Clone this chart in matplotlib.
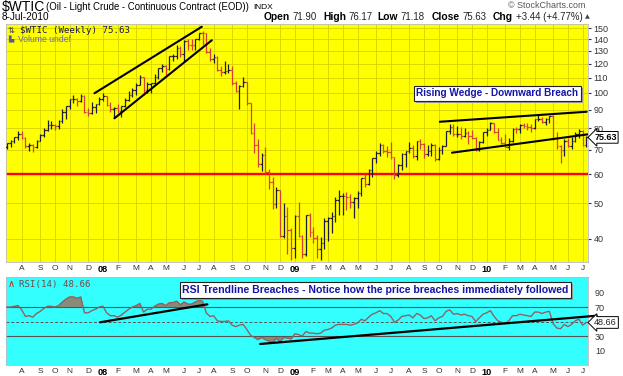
import matplotlib
matplotlib.use('Agg')
import matplotlib.pyplot as plt
import numpy as np
import pandas as pd
from matplotlib.transforms import IdentityTransform
from matplotlib.patches import Rectangle
from matplotlib.ticker import NullLocator, FixedLocator

# ---------------- data (weekly, $WTIC) ----------------
first_week = '2007-07-06'

opens = [
    71.0, 72.8, 73.9, 75.6, 77.0, 75.5, 71.5, 71.9, 71.1, 74.0,
    76.7, 79.1, 81.6, 81.7, 81.2, 83.7, 88.6, 91.9, 95.9, 96.3,
    95.1, 98.2, 88.7, 88.3, 91.3, 93.3, 96.0, 97.9, 92.7, 90.6,
    90.7, 89.0, 91.8, 95.5, 98.8, 101.8, 105.2, 110.2, 101.8, 105.6,
    106.2, 110.1, 116.7, 118.5, 116.3, 126.0, 126.3, 132.2, 127.4, 138.5,
    134.9, 134.6, 140.2, 145.3, 145.1, 128.9, 123.3, 125.1, 115.2, 113.8,
    114.6, 115.5, 106.2, 101.2, 104.6, 106.9, 93.9, 77.7, 71.9, 64.2,
    67.8, 61.0, 57.0, 49.9, 54.4, 40.8, 46.3, 42.4, 37.7, 46.3,
    40.8, 36.5, 46.5, 41.7, 40.2, 37.5, 38.9, 44.8, 45.5, 46.3,
    51.1, 52.4, 52.5, 52.2, 50.3, 51.6, 53.2, 58.6, 56.3, 61.7,
    66.3, 68.4, 72.0, 69.6, 69.2, 66.7, 59.9, 63.6, 68.1, 69.5,
    70.9, 67.5, 73.9, 72.7, 68.0, 69.3, 72.0, 66.0, 70.0, 71.8,
    78.5, 80.5, 77.0, 77.4, 76.4, 77.5, 76.1, 75.5, 69.9, 73.4,
    78.1, 79.4, 82.8, 78.0, 74.5, 72.9, 71.2, 74.1, 79.8, 79.7,
    81.5, 81.2, 80.7, 80.0, 84.9, 84.9, 83.2, 85.1, 86.2, 75.1,
    71.6, 70.0, 74.0, 71.5, 73.8, 77.2, 78.9, 71.90]

highs = [
    73.0, 74.2, 76.0, 78.8, 78.8, 76.0, 73.0, 72.5, 74.5, 77.0,
    80.2, 84.1, 83.9, 82.0, 84.5, 90.1, 92.3, 96.2, 98.6, 96.6,
    99.3, 98.6, 90.8, 94.6, 93.5, 97.1, 100.0, 98.0, 94.5, 91.5,
    93.0, 92.0, 96.7, 101.3, 103.0, 106.5, 111.8, 110.5, 107.0, 106.5,
    112.2, 117.0, 119.9, 118.7, 126.2, 127.8, 135.1, 133.9, 139.1, 139.9,
    139.9, 140.4, 145.9, 147.3, 145.9, 132.0, 127.8, 125.6, 118.4, 122.0,
    120.0, 118.3, 107.5, 105.0, 110.3, 107.0, 94.0, 83.0, 75.0, 68.5,
    71.0, 62.0, 59.0, 55.5, 54.5, 50.0, 49.0, 42.8, 46.5, 50.5,
    41.0, 46.5, 47.0, 43.0, 41.0, 40.5, 45.5, 46.0, 47.5, 52.0,
    54.5, 53.5, 53.6, 53.0, 52.0, 54.0, 58.7, 60.0, 62.0, 66.5,
    69.5, 73.2, 72.5, 71.5, 73.4, 67.0, 64.0, 68.5, 69.5, 73.5,
    72.0, 74.0, 75.0, 73.0, 72.0, 73.0, 72.5, 71.0, 72.0, 78.8,
    82.0, 82.0, 81.0, 80.5, 80.0, 78.5, 79.0, 75.8, 74.0, 78.2,
    80.0, 83.5, 83.0, 80.0, 76.0, 77.0, 75.5, 80.0, 80.5, 82.0,
    82.5, 83.0, 82.0, 85.0, 87.0, 86.0, 85.5, 86.5, 87.0, 78.0,
    72.0, 75.0, 75.5, 76.0, 78.0, 79.5, 79.0, 76.17]

lows = [
    70.5, 71.2, 73.2, 74.5, 74.8, 70.8, 69.5, 69.0, 70.8, 73.8,
    76.0, 78.5, 79.9, 79.0, 79.5, 83.0, 85.0, 90.3, 94.0, 91.8,
    94.5, 88.0, 86.2, 87.6, 88.2, 92.5, 94.9, 92.3, 88.6, 86.1,
    88.2, 86.1, 91.5, 94.8, 97.5, 98.6, 104.7, 98.7, 99.6, 99.6,
    105.0, 109.0, 114.0, 111.8, 115.0, 122.0, 123.6, 125.5, 121.6, 130.6,
    131.0, 131.0, 139.6, 135.1, 128.2, 122.3, 120.4, 114.6, 111.3, 112.5,
    113.0, 104.7, 100.5, 90.5, 103.5, 92.5, 77.0, 68.6, 63.0, 61.3,
    60.0, 54.7, 48.2, 48.5, 40.5, 40.2, 36.5, 35.1, 35.5, 40.5,
    35.5, 36.0, 40.5, 39.0, 35.5, 35.0, 37.5, 39.5, 41.5, 44.5,
    46.5, 46.5, 48.0, 48.5, 45.5, 48.5, 52.5, 55.5, 56.0, 59.0,
    64.5, 67.5, 68.5, 67.0, 66.2, 58.3, 59.0, 61.5, 63.0, 68.5,
    66.5, 65.5, 70.5, 66.5, 67.5, 67.5, 65.1, 65.5, 68.0, 71.5,
    77.0, 76.5, 76.0, 75.0, 76.0, 72.5, 75.0, 69.5, 69.5, 73.0,
    76.5, 79.0, 77.5, 74.5, 72.5, 71.0, 70.0, 73.5, 77.5, 77.5,
    80.0, 79.0, 78.0, 79.5, 84.0, 82.5, 81.5, 82.5, 74.5, 70.5,
    64.5, 67.5, 71.0, 70.5, 73.5, 75.5, 71.5, 71.18]

closes = [
    72.8, 73.9, 75.6, 77.0, 75.5, 71.5, 71.9, 71.1, 74.0, 76.7,
    79.1, 81.6, 81.7, 81.2, 83.7, 88.6, 91.9, 95.9, 96.3, 95.1,
    98.2, 88.7, 88.3, 91.3, 93.3, 96.0, 97.9, 92.7, 90.6, 90.7,
    89.0, 91.8, 95.5, 98.8, 101.8, 105.2, 110.2, 101.8, 105.6, 106.2,
    110.1, 116.7, 118.5, 116.3, 126.0, 126.3, 132.2, 127.4, 138.5, 134.9,
    134.6, 140.2, 145.3, 145.1, 128.9, 123.3, 125.1, 115.2, 113.8, 114.6,
    115.5, 106.2, 101.2, 104.6, 106.9, 93.9, 77.7, 71.9, 64.2, 67.8,
    61.0, 57.0, 49.9, 54.4, 40.8, 46.3, 42.4, 37.7, 46.3, 40.8,
    36.5, 46.5, 41.7, 40.2, 37.5, 38.9, 44.8, 45.5, 46.3, 51.1,
    52.4, 52.5, 52.2, 50.3, 51.6, 53.2, 58.6, 56.3, 61.7, 66.3,
    68.4, 72.0, 69.6, 69.2, 66.7, 59.9, 63.6, 68.1, 69.5, 70.9,
    67.5, 73.9, 72.7, 68.0, 69.3, 72.0, 66.0, 70.0, 71.8, 78.5,
    80.5, 77.0, 77.4, 76.4, 77.5, 76.1, 75.5, 69.9, 73.4, 78.1,
    79.4, 82.8, 78.0, 74.5, 72.9, 71.2, 74.1, 79.8, 79.7, 81.5,
    81.2, 80.7, 80.0, 84.9, 84.9, 83.2, 85.1, 86.2, 75.1, 71.6,
    70.0, 74.0, 71.5, 73.8, 77.2, 78.9, 72.1, 75.63]

rsi = [
    70, 70, 71, 72, 66, 57, 58, 56, 61, 64,
    68, 71, 71, 70, 72, 77, 81, 84, 84, 82,
    84, 62, 62, 65, 67, 70, 71, 62, 58, 58,
    56, 59, 63, 67, 70, 72, 75, 63, 67, 67,
    71, 74, 75, 72, 76, 76, 78, 73, 77, 74,
    74, 77, 79, 78, 62, 57, 58, 51, 50, 50,
    51, 45, 43, 45, 46, 39, 31, 28, 25, 28,
    25, 23, 21, 27, 22, 28, 27, 26, 33, 32,
    30, 36, 34, 34, 33, 34, 38, 39, 41, 45,
    46, 46, 46, 45, 46, 48, 53, 51, 56, 60,
    62, 65, 61, 61, 57, 49, 52, 57, 58, 59,
    55, 61, 59, 54, 55, 58, 51, 55, 57, 64,
    66, 60, 61, 59, 60, 58, 57, 50, 55, 60,
    62, 65, 57, 51, 49, 47, 51, 58, 58, 60,
    59, 58, 57, 63, 63, 61, 63, 64, 47, 41,
    40, 46, 43, 46, 51, 53, 45, 48.66]

support_level = 60
price_ticks = [40, 50, 60, 70, 80, 90, 100, 110, 120, 130, 140, 150]
rsi_ticks = [10, 30, 70, 90]

# trendlines drawn on the chart (week index, value)
channel_upper = ([23.7, 52.8], [99.7, 151.3])
channel_lower = ([29.1, 55.5], [85.2, 139.0])
wedge_upper = ([117.3, 157.1], [83.4, 88.8])
wedge_lower = ([120.6, 157.5], [68.7, 77.1])
rsi_line1 = ([25.2, 54.3], [48.9, 73.7])
rsi_line2 = ([68.6, 159.8], [19.0, 58.0])

# ---------------- figure ----------------
W, H = 623, 376
plt.rcParams['font.family'] = ['Liberation Sans', 'DejaVu Sans']
fig = plt.figure(figsize=(W / 100, H / 100), dpi=100)
fig.patch.set_facecolor('white')
renderer = fig.canvas.get_renderer()


def px_axes(l, t, r, b):
    return fig.add_axes([l / W, 1 - b / H, (r - l) / W, (b - t) / H])


def ftext(x, y, s, **kw):
    kw.setdefault('va', 'center')
    return fig.text(x / W, 1 - y / H, s, **kw)


n = len(closes)
x = np.arange(n)
dates = pd.date_range(first_week, periods=n, freq='W-FRI')
month_idx = [i for i in range(1, n) if dates[i].month != dates[i - 1].month]
month_lab = [("%02d" % (dates[i].year % 100)) if dates[i].month == 1
             else dates[i].strftime('%b')[0] for i in month_idx]

XMIN, XMAX = -0.27, 157.45

ax = px_axes(6, 24, 588, 262)
axr = px_axes(6, 277, 588, 365)


def month_axis(a):
    a.set_xticks(month_idx)
    a.set_xticklabels(month_lab)
    a.tick_params(axis='x', labelsize=6, length=0, pad=2, colors='#333333')
    for lbl, m in zip(a.get_xticklabels(), month_lab):
        if m.isdigit():
            lbl.set_fontweight('bold')
            lbl.set_color('black')
            lbl.set_fontsize(6.6)


# ---- main price panel ----
ax.set_facecolor('#ffff00')
ax.set_yscale('log')
ax.set_ylim(34.63, 153.9)
ax.set_xlim(XMIN, XMAX)
ax.yaxis.set_major_locator(FixedLocator(price_ticks))
ax.yaxis.set_minor_locator(NullLocator())
ax.set_yticklabels([str(t) for t in price_ticks])
ax.yaxis.tick_right()
ax.tick_params(axis='y', labelsize=6.5, length=2, pad=2, colors='#333333')
month_axis(ax)
ax.grid(True, color='#d6d200', lw=0.6)
ax.set_axisbelow(True)
for s in ax.spines.values():
    s.set_color('#bbbbbb')
    s.set_linewidth(0.6)

cols = ['#1c1c3c' if (i == 0 or closes[i] >= closes[i - 1]) else '#d8403a'
        for i in range(n)]
ax.vlines(x, lows, highs, colors=cols, lw=0.9, zorder=3)
ax.hlines(opens, x - 0.45, x, colors=cols, lw=0.9, zorder=3)
ax.hlines(closes, x, x + 0.45, colors=cols, lw=0.9, zorder=3)

ax.axhline(support_level, color='#ff0000', lw=1.7, zorder=2)
for xs, ys in (channel_upper, channel_lower, wedge_upper, wedge_lower):
    ax.plot(xs, ys, color='black', lw=1.5, zorder=4, solid_capstyle='round')

# last price tag
ax.annotate('75.63', xy=(1.0, closes[-1]), xycoords=('axes fraction', 'data'),
            xytext=(4.5, 0), textcoords='offset points', ha='left', va='center',
            fontsize=6.5, fontweight='bold', color='black', annotation_clip=False,
            bbox=dict(boxstyle='larrow,pad=0.15', fc='white', ec='black', lw=0.7))


def boxed(axis, xf, yf, s, fs):
    t = axis.text(xf, yf, s, transform=axis.transAxes, ha='center', va='center',
                  fontsize=fs, fontweight='bold', color='#1414a8', zorder=6,
                  bbox=dict(boxstyle='square,pad=0.25', fc='white', ec='#222222', lw=0.8))
    t.draw(renderer)
    bb = t.get_bbox_patch().get_window_extent(renderer)
    axis.add_patch(Rectangle((bb.x0 + 2, bb.y0 - 2), bb.width, bb.height,
                             transform=IdentityTransform(), fc='#9a9a9a', ec='none',
                             zorder=5, clip_on=False))


boxed(ax, (497.5 - 6) / 582, (262 - 93.4) / 238, 'Rising Wedge - Downward Breach', 7.2)

# panel legend
ax.text(2 / 582, (262 - 30.5) / 238, '⇅', transform=ax.transAxes, fontsize=6,
        color='#303060', va='center', ha='left', family='DejaVu Sans')
ax.text(14 / 582, (262 - 30.5) / 238, '$WTIC (Weekly) 75.63', transform=ax.transAxes,
        fontsize=6.6, color='#181850', va='center', ha='left', family='DejaVu Sans Mono')
ax.text(2 / 582, (262 - 39) / 238, '▙', transform=ax.transAxes, fontsize=5,
        color='#5a5a9a', va='center', ha='left', family='DejaVu Sans')
ax.text(12 / 582, (262 - 39) / 238, 'Volume undef', transform=ax.transAxes,
        fontsize=6.2, color='#6a6aa8', va='center', ha='left')

# ---- RSI panel ----
rs = np.array(rsi, dtype=float)
axr.set_facecolor('#33ffff')
axr.set_xlim(XMIN, XMAX)
axr.set_ylim(-10, 111.4)
axr.yaxis.tick_right()
axr.set_yticks(rsi_ticks)
axr.set_yticklabels([str(t) for t in rsi_ticks])
axr.tick_params(axis='y', labelsize=6.5, length=0, pad=5, colors='#333333')
month_axis(axr)
for s in axr.spines.values():
    s.set_color('#bbbbbb')
    s.set_linewidth(0.6)
axr.axhline(70, color='#555555', lw=0.8)
axr.axhline(30, color='#555555', lw=0.8)
axr.axhline(50, color='#555555', lw=0.7, ls=(0, (3, 2)))
axr.fill_between(x, 70, rs, where=rs > 70, interpolate=True, color='#8a8a78', lw=0)
axr.fill_between(x, 30, rs, where=rs < 30, interpolate=True, color='#8a8a78', lw=0)
axr.plot(x, rs, color='#8c6464', lw=1.0, zorder=3)
for xs, ys in (rsi_line1, rsi_line2):
    axr.plot(xs, ys, color='black', lw=1.6, zorder=4, clip_on=False,
             solid_capstyle='round')

axr.annotate('48.66', xy=(1.0, rs[-1]), xycoords=('axes fraction', 'data'),
             xytext=(4.5, 0), textcoords='offset points', ha='left', va='center',
             fontsize=6.5, color='#222222', annotation_clip=False, zorder=6,
             bbox=dict(boxstyle='larrow,pad=0.15', fc='white', ec='black', lw=0.7))

boxed(axr, (375.5 - 6) / 582, (365 - 290) / 88,
      'RSI Trendline Breaches - Notice how the price breaches immediately followed', 7.6)

axr.text(2 / 582, (365 - 284) / 88, '∧', transform=axr.transAxes, fontsize=7,
         color='#cc2020', va='center', ha='left', family=['DejaVu Sans'])
axr.text(13 / 582, (365 - 284) / 88, 'RSI(14) 48.66', transform=axr.transAxes,
         fontsize=6.6, color='#7a4848', va='center', ha='left', family='DejaVu Sans Mono')

# ---- header ----
ftext(1.5, 7, '$WTIC', fontsize=10, color='black')
t_title = ftext(46, 7.5, '(Oil - Light Crude - Continuous Contract (EOD))', fontsize=6.9)
bb = t_title.get_window_extent(renderer)
ftext(bb.x1 + 4, 7.5, 'INDX', fontsize=6.0)
ftext(1.5, 17.5, '8-Jul-2010', fontsize=7.2)
ftext(508, 6, '© StockCharts.com', fontsize=6.4, color='#555555')
hdr = [(264, 'Open', '71.90'), (323, 'High', '76.17'), (377, 'Low', '71.18'),
       (431.5, 'Close', '75.63'), (493, 'Chg', '+3.44 (+4.77%)')]
for xp, lab, val in hdr:
    t = ftext(xp, 17, lab, fontsize=7.4, fontweight='bold', color='black')
    bb = t.get_window_extent(renderer)
    tv = ftext(bb.x1 + 2.5, 17, val, fontsize=6.9, color='#222222')
tb = tv.get_window_extent(renderer)
ftext(tb.x1 + 3, 17, '▲', fontsize=4.5, color='#444444', family=['DejaVu Sans'])

fig.savefig('out.png', dpi=100, facecolor='white')
